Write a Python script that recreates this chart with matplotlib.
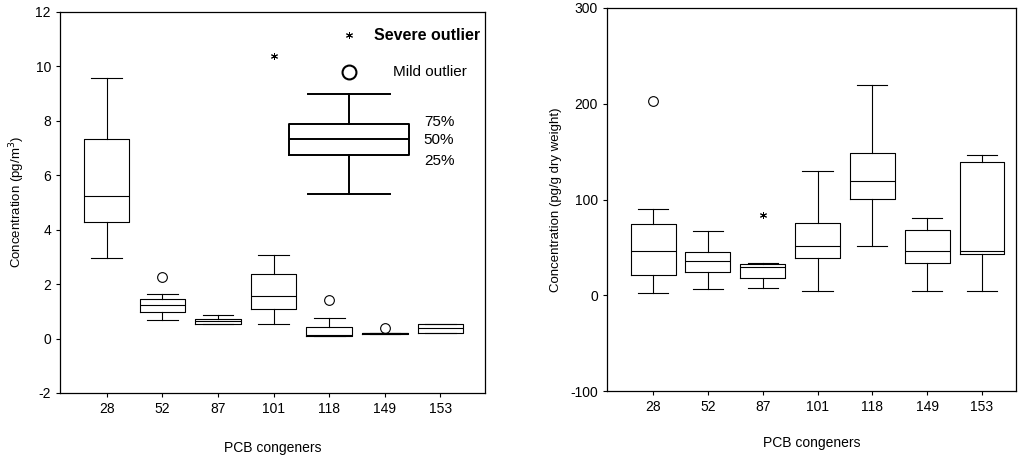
import matplotlib

matplotlib.use("Agg")
import matplotlib.pyplot as plt  # noqa: E402

plt.rcParams["font.family"] = ["Liberation Sans", "DejaVu Sans"]
plt.rcParams["axes.unicode_minus"] = False

congeners = ["28", "52", "87", "101", "118", "149", "153"]

# Left panel: air concentrations (pg/m3)
air_q1 = [4.28, 0.97, 0.55, 1.10, 0.08, 0.16, 0.22]
air_med = [5.25, 1.25, 0.65, 1.58, 0.12, 0.19, 0.40]
air_q3 = [7.35, 1.47, 0.73, 2.38, 0.44, 0.22, 0.52]
air_lo = [2.97, 0.70, 0.55, 0.55, 0.08, 0.16, 0.20]
air_hi = [9.56, 1.65, 0.88, 3.08, 0.77, 0.22, 0.55]
air_mild = [[], [2.27], [], [], [1.43], [0.37], []]
air_severe = [[], [], [], [10.4], [], [], []]

# Legend box (schematic)
key_q1, key_med, key_q3, key_lo, key_hi = 6.74, 7.35, 7.87, 5.3, 9.0

# Right panel: soil concentrations (pg/g dry weight)
soil_q1 = [21, 24, 18, 38.5, 101, 34, 43]
soil_med = [46, 36, 30, 51, 119, 46, 46]
soil_q3 = [74, 45, 33, 76, 149, 68, 139]
soil_lo = [2, 7, 8, 4, 51, 5, 5]
soil_hi = [90, 67, 34, 130, 220, 81, 146]
soil_mild = [[203], [], [], [], [], [], []]
soil_severe = [[], [], [84], [], [], [], []]

NARROW = ["Liberation Sans Narrow", "Liberation Sans"]
ASTERISK = (6, 2, 0)


def make_stats(q1, med, q3, lo, hi):
    return [
        {"q1": a, "med": m, "q3": b, "whislo": w0, "whishi": w1, "fliers": []}
        for a, m, b, w0, w1 in zip(q1, med, q3, lo, hi)
    ]


def draw_panel(ax, stats, mild, severe, lw=0.8):
    pos = list(range(1, len(stats) + 1))
    style = dict(color="black", linewidth=lw)
    ax.bxp(stats, positions=pos, widths=0.82, capwidths=0.55, showfliers=False,
           boxprops=style, whiskerprops=style, capprops=style,
           medianprops=style, manage_ticks=False)
    for p, vals in zip(pos, mild):
        if vals:
            ax.plot([p] * len(vals), vals, "o", mfc="white", mec="black", ms=7, mew=0.8)
    for p, vals in zip(pos, severe):
        if vals:
            ax.plot([p] * len(vals), vals, marker=ASTERISK, ls="none", color="black", ms=5, mew=0.7)
    ax.set_xticks(pos)
    ax.set_xticklabels(congeners, family=NARROW)
    ax.tick_params(direction="out", length=3, width=0.8, labelsize=10, colors="black")
    for sp in ax.spines.values():
        sp.set_linewidth(0.9)


fig = plt.figure(figsize=(10.18, 4.59), dpi=100)

ax1 = fig.add_axes([0.0589, 0.1438, 0.4175, 0.8301])
draw_panel(ax1, make_stats(air_q1, air_med, air_q3, air_lo, air_hi), air_mild, air_severe)
ax1.set_xlim(0.16, 7.8)
ax1.set_ylim(-2, 12)
ax1.set_yticks([-2, 0, 2, 4, 6, 8, 10, 12])
for lab in ax1.get_yticklabels():
    lab.set_family(NARROW)
ax1.set_ylabel("Concentration (pg/m$^3$)", fontsize=9.5, labelpad=6)
ax1.set_xlabel("PCB congeners", fontsize=10, labelpad=18)

# schematic key box
key_x = 5.35
ks = dict(color="black", linewidth=1.4)
ax1.bxp([{"q1": key_q1, "med": key_med, "q3": key_q3, "whislo": key_lo,
          "whishi": key_hi, "fliers": []}],
        positions=[key_x], widths=2.16, capwidths=1.47, showfliers=False,
        boxprops=ks, whiskerprops=ks, capprops=ks, medianprops=ks, manage_ticks=False)
ax1.plot([key_x], [11.15], marker=ASTERISK, ls="none", color="black", ms=5, mew=0.7)
ax1.plot([key_x], [9.78], "o", mfc="white", mec="black", ms=10, mew=1.5)
ax1.text(5.8, 11.15, "Severe outlier", fontsize=11.5, fontweight="bold", va="center")
ax1.text(6.15, 9.78, "Mild outlier", fontsize=11, va="center")
ax1.text(6.7, key_q3 + 0.1, "75%", fontsize=11, va="center")
ax1.text(6.7, key_med - 0.05, "50%", fontsize=11, va="center")
ax1.text(6.7, key_q1 - 0.2, "25%", fontsize=11, va="center")

ax2 = fig.add_axes([0.5963, 0.148, 0.4017, 0.8346])
draw_panel(ax2, make_stats(soil_q1, soil_med, soil_q3, soil_lo, soil_hi), soil_mild, soil_severe)
ax2.set_xlim(0.16, 7.62)
ax2.set_ylim(-100, 300)
ax2.set_yticks([-100, 0, 100, 200, 300])
for lab in ax2.get_yticklabels():
    lab.set_family(NARROW)
ax2.set_ylabel("Concentration (pg/g dry weight)", fontsize=9.5, labelpad=6)
ax2.set_xlabel("PCB congeners", fontsize=10, labelpad=16)

fig.savefig("out.png", dpi=100)
